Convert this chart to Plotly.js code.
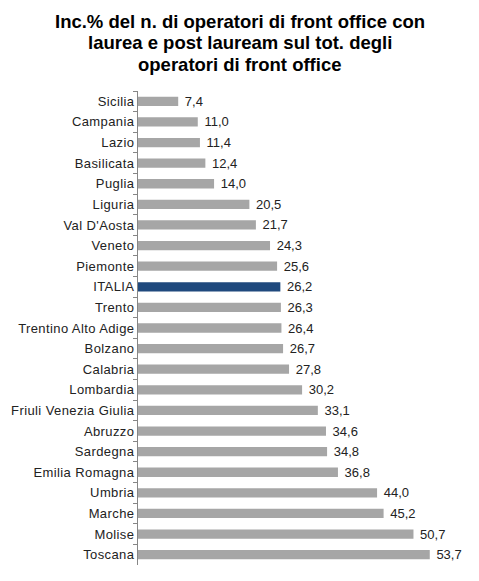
<!DOCTYPE html>
<html><head><meta charset="utf-8">
<script src="https://cdn.plot.ly/plotly-3.0.1.min.js"></script>
<style>html,body{margin:0;padding:0;background:#fff;}#c{width:479px;height:581px;}
#c .ytick text, #c .bartext text {letter-spacing: 0.4px;}
</style>
</head><body><div id="c"></div>
<script>
const regions = ["Sicilia","Campania","Lazio","Basilicata","Puglia","Liguria","Val D'Aosta","Veneto","Piemonte","ITALIA","Trento","Trentino Alto Adige","Bolzano","Calabria","Lombardia","Friuli Venezia Giulia","Abruzzo","Sardegna","Emilia Romagna","Umbria","Marche","Molise","Toscana"];
const values = [7.4,11.0,11.4,12.4,14.0,20.5,21.7,24.3,25.6,26.2,26.3,26.4,26.7,27.8,30.2,33.1,34.6,34.8,36.8,44.0,45.2,50.7,53.7];
const highlight = "ITALIA";
const titleLines = ["Inc.% del n. di operatori di front office con", "laurea e post lauream sul tot. degli", "operatori di front office"];

const colors = regions.map(r => r === highlight ? "#1f497d" : "#a6a6a6");
const labels = values.map(v => " " + v.toFixed(1).replace(".", ","));
const FONT = "Liberation Sans, Arial, sans-serif";
const M = {l: 138, r: 15, t: 91, b: 16};
const plotH = 581 - M.t - M.b, plotW = 479 - M.l - M.r;
const lineY = [21.5, 43, 64.5];

const annotations = titleLines.map((t, i) => ({
  text: t, xref: "paper", yref: "paper",
  x: (240 - M.l) / plotW, y: (581 - M.b - lineY[i]) / plotH,
  xanchor: "center", yanchor: "middle", showarrow: false,
  font: {family: FONT, size: 18.5, color: "#000", weight: "bold"}
}));

Plotly.newPlot("c", [{
  type: "bar", orientation: "h",
  x: values, y: regions,
  marker: {color: colors},
  width: 0.45,
  text: labels, textposition: "outside", cliponaxis: false, constraintext: "none",
  textfont: {family: FONT, size: 13, color: "#222"},
  hoverinfo: "none"
}], {
  width: 479, height: 581,
  margin: M,
  paper_bgcolor: "#fff", plot_bgcolor: "#fff",
  annotations: annotations,
  xaxis: {range: [0, 60], showgrid: false, zeroline: false, showticklabels: false, ticks: "", showline: false, fixedrange: true},
  yaxis: {autorange: "reversed", type: "category", showline: true, linecolor: "#868686", linewidth: 1,
          ticks: "outside", ticklen: 4, tickcolor: "#868686", tickson: "boundaries",
          tickfont: {family: FONT, size: 13, color: "#222"},
          showgrid: false, zeroline: false, fixedrange: true},
  showlegend: false,
  font: {family: FONT}
}, {displayModeBar: false, staticPlot: true});
</script></body></html>
